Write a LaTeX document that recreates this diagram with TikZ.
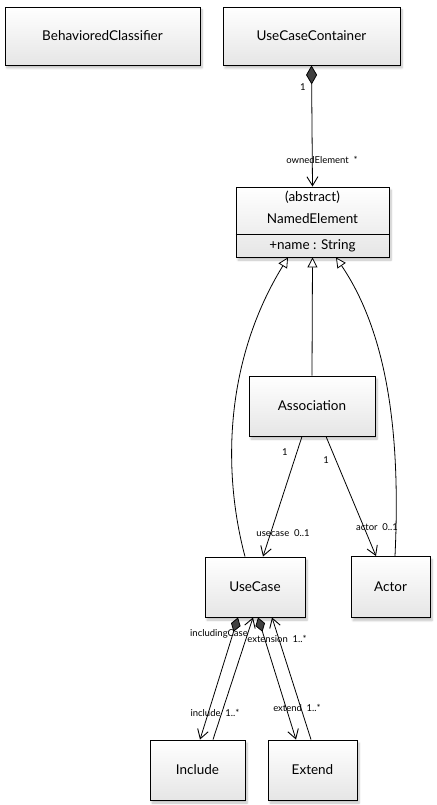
\documentclass[tikz,border=0pt]{standalone}
\usepackage{fontspec}
\setmainfont{Lato}
\usetikzlibrary{arrows.meta,shadows.blur,calc}
\begin{document}
\begin{tikzpicture}[x=1pt,y=-1pt,
  cls/.style={draw=black, line width=0.9pt, top color=white, bottom color=gray!20,
    blur shadow={shadow xshift=2pt, shadow yshift=-3pt, shadow blur steps=6, shadow opacity=25},
    inner sep=0pt, font=\fontsize{13.5}{15}\selectfont},
  lbl/.style={font=\fontsize{9.5}{11}\selectfont, inner sep=0pt},
  txt/.style={font=\fontsize{13.5}{15}\selectfont, inner sep=0pt},
  conn/.style={draw=black, line width=0.8pt},
  open/.style={conn, -{Straight Barb[length=9pt,width=11pt,line width=0.9pt]}},
  comp/.style={conn, {Diamond[fill=darkgray,length=19pt,width=11pt]}-{Straight Barb[length=9pt,width=11pt,line width=0.9pt]}},
  compb/.style={conn, {Diamond[fill=darkgray,length=15pt,width=10pt]}-{Straight Barb[length=9pt,width=11pt,line width=0.9pt]}},
  gen/.style={conn, -{Triangle[open,fill=white,length=10pt,width=10pt]}}]
\useasboundingbox (0,0) rectangle (436,805);

\node[cls, minimum width=195pt, minimum height=58pt] (bc) at (102.5,36) {BehavioredClassifier};
\node[cls, minimum width=177pt, minimum height=58pt] (ucc) at (311.5,36) {UseCaseContainer};
\node[cls, minimum width=153pt, minimum height=70pt] (ne) at (312.5,222) {};
\node[txt] (neab) at (312.5,197) {(abstract)};
\node[txt] (nename) at (312.5,219) {NamedElement};
\node[txt] (neattr) at (312.5,246) {+name : String};
\draw[line width=0.8pt] ($(ne.north west)+(0,48)$) coordinate (dl) -- ($(ne.north east)+(0,48)$) coordinate (dr);
\node[cls, minimum width=126pt, minimum height=60pt] (assoc) at (312,406) {Association};
\node[cls, minimum width=100pt, minimum height=60pt] (uc) at (255,587) {UseCase};
\node[cls, minimum width=79pt, minimum height=61pt] (actor) at (390.5,587) {Actor};
\node[cls, minimum width=95pt, minimum height=60pt] (inc) at (197.5,770) {Include};
\node[cls, minimum width=89pt, minimum height=60pt] (ext) at (312.5,770) {Extend};

% composition UseCaseContainer -> NamedElement
\draw[comp] (ucc.south) -- (ne.north);
\node[lbl] (l1) at (303,87) {1};
\node[lbl] (l2) at (322,160) {ownedElement\enspace *};

% generalizations
\draw[gen] ($(uc.north)+(-10,0)$) .. controls (222,470) and (225,360) .. ($(ne.south)+(-24.5,0)$);
\draw[gen] (assoc.north) -- (ne.south);
\draw[gen] ($(actor.north)+(4.5,0)$) .. controls (400,450) and (392,340) .. ($(ne.south)+(23.5,0)$);

% associations
\draw[open] ($(assoc.south)+(-10,0)$) -- ($(uc.north)+(8,0)$);
\node[lbl] (l3) at (285,452) {1};
\node[lbl] (l4) at (283,533) {usecase\enspace 0..1};
\draw[open] ($(assoc.south)+(14,0)$) -- ($(actor.north)+(-14.5,0)$);
\node[lbl] (l5) at (326,460) {1};
\node[lbl] (l6) at (377,527) {actor\enspace 0..1};

% include / extend
\draw[compb] ($(uc.south)+(-17,0)$) -- ($(inc.north)+(2.5,0)$);
\draw[open] ($(inc.north)+(15.5,0)$) -- ($(uc.south)+(-2,0)$);
\draw[compb] ($(uc.south)+(3,0)$) -- ($(ext.north)+(-16.5,0)$);
\draw[open] ($(ext.north)+(-1.5,0)$) -- ($(uc.south)+(17,0)$);
\node[lbl] (l7) at (215,713) {include\enspace 1..*};
\node[lbl] (l8) at (297,708) {extend\enspace 1..*};
\node[lbl] (l9) at (219,634) {includingCase};
\node[lbl] (l10) at (277,639) {extension\enspace 1..*};
\end{tikzpicture}
\end{document}
